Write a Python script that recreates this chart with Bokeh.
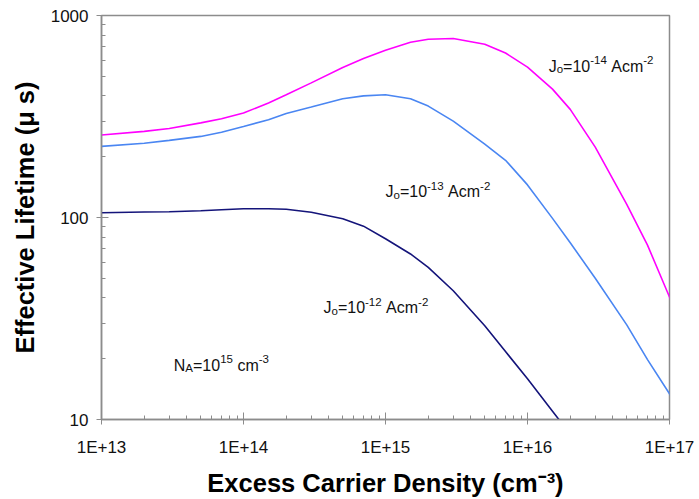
from bokeh.plotting import figure
from bokeh.models import FixedTicker, CustomJSTickFormatter, ColumnDataSource
from bokeh.embed import file_html
from bokeh.resources import INLINE
from bokeh.core.properties import value

# Excess carrier density (cm^-3) at which lifetimes were evaluated
density = [1e13, 2e13, 3e13, 5e13, 7e13, 1e14, 1.5e14, 2e14, 3e14, 5e14, 7e14,
           1e15, 1.5e15, 2e15, 3e15, 5e15, 7e15, 1e16, 1.5e16, 2e16, 3e16,
           5e16, 7e16, 1e17, 1.1e17]

# Effective lifetime (us) for Jo = 1e-14 A/cm^2
tau_jo14 = [256, 267, 276, 294, 308, 329, 369, 405, 464, 553, 612,
            673, 737, 763, 769, 721, 652, 555, 432, 343, 223,
            116, 73, 40.4, 34.4]

# Effective lifetime (us) for Jo = 1e-13 A/cm^2
tau_jo13 = [225, 233, 241, 252, 264, 282, 305, 327, 352, 387, 400,
            405, 387, 356, 300, 231, 192, 145, 99, 75, 50,
            29.4, 19.8, 13.4, 12.0]

# Jo = 1e-12 A/cm^2 runs off the bottom of the scale sooner
density_jo12 = [1e13, 2e13, 3e13, 5e13, 7e13, 1e14, 1.5e14, 2e14, 3e14, 5e14,
                7e14, 1e15, 1.5e15, 2e15, 3e15, 5e15, 7e15, 1e16, 1.5e16, 1.75e16]
tau_jo12 = [105.6, 106.4, 106.8, 108, 109.2, 110.5, 110.5, 109.8, 106.2, 98.6,
            90.6, 78.5, 66, 56.6, 43.4, 29.1, 21.7, 15.9, 11.0, 9.55]

x_major = [1e13, 1e14, 1e15, 1e16, 1e17]
y_major = [10, 100, 1000]

FONT = "Liberation Sans"
GREY = "#8c8c8c"

p = figure(width=699, height=499, x_axis_type="log", y_axis_type="log",
           x_range=(1e13, 1e17), y_range=(10, 1000),
           output_backend="svg", toolbar_location=None,
           min_border_left=101, min_border_right=30,
           min_border_top=15, min_border_bottom=76)
p.background_fill_color = "white"
p.border_fill_color = "white"
p.xgrid.visible = False
p.ygrid.visible = False
p.outline_line_color = GREY
p.outline_line_width = 1.5

# axes
p.xaxis.ticker = FixedTicker(
    ticks=x_major,
    minor_ticks=[k * 10 ** n for n in range(13, 17) for k in range(2, 10)])
p.yaxis.ticker = FixedTicker(
    ticks=y_major,
    minor_ticks=[k * 10 ** n for n in range(1, 3) for k in range(2, 10)])
p.xaxis.formatter = CustomJSTickFormatter(
    code="return '1E+' + Math.round(Math.log10(tick));")
p.yaxis.formatter = CustomJSTickFormatter(code="return tick.toFixed(0);")

for ax in (p.xaxis, p.yaxis):
    ax.axis_line_color = GREY
    ax.axis_line_width = 1.5
    ax.major_tick_line_color = GREY
    ax.minor_tick_line_color = GREY
    ax.major_tick_line_width = 1
    ax.minor_tick_line_width = 1
    ax.major_tick_in = 7
    ax.major_tick_out = 5
    ax.minor_tick_in = 4
    ax.minor_tick_out = 0
    ax.major_label_text_font = FONT
    ax.major_label_text_font_size = "17px"
    ax.major_label_text_color = "#111111"
    ax.axis_label_text_font = FONT
    ax.axis_label_text_font_style = "bold"
    ax.axis_label_text_font_size = "25.5px"
    ax.axis_label_text_color = "#000000"

p.xaxis.major_label_standoff = 13
p.xaxis.axis_label_standoff = 9
p.yaxis.major_label_standoff = 8
p.yaxis.axis_label_standoff = 9
p.xaxis.axis_label = "Excess Carrier Density (cm\u207b\u00b3)"
p.yaxis.axis_label = "Effective Lifetime (\u03bc s)"

# lifetime curves
p.line(density, tau_jo14, line_color="#ff00ff", line_width=1.6)
p.line(density, tau_jo13, line_color="#4a86f2", line_width=1.6)
p.line(density_jo12, tau_jo12, line_color="#14147a", line_width=1.6)

# in-plot annotations built from normal, subscript and superscript pieces
ADV = {'J': 500, 'o': 556, '=': 584, '0': 556, '1': 556, '2': 556, '3': 556,
       '4': 556, '5': 556, '-': 333, ' ': 278, 'A': 667, 'c': 500, 'm': 833,
       'N': 722}
BASE_PX = 16
SMALL_PX = 11.5

annotations = [
    (1.41e16, 562, [("J", "n"), ("o", "sub"), ("=10", "n"), ("-14", "sup"),
                    (" Acm", "n"), ("-2", "sup")]),
    (1.0e15, 134, [("J", "n"), ("o", "sub"), ("=10", "n"), ("-13", "sup"),
                   (" Acm", "n"), ("-2", "sup")]),
    (3.66e14, 35.7, [("J", "n"), ("o", "sub"), ("=10", "n"), ("-12", "sup"),
                     (" Acm", "n"), ("-2", "sup")]),
    (3.23e13, 18.6, [("N", "n"), ("A", "sub"), ("=10", "n"), ("15", "sup"),
                     (" cm", "n"), ("-3", "sup")]),
]

pieces = {"n": dict(x=[], y=[], text=[], xo=[], yo=[]),
          "s": dict(x=[], y=[], text=[], xo=[], yo=[])}
for ax_, ay_, parts in annotations:
    cursor = 0.0
    for txt, kind in parts:
        size = BASE_PX if kind == "n" else SMALL_PX
        # leading blanks are collapsed by the renderer, so advance past them
        stripped = txt.lstrip(" ")
        cursor += (len(txt) - len(stripped)) * ADV[' '] * size / 1000.0
        group = pieces["n" if kind == "n" else "s"]
        group["x"].append(ax_)
        group["y"].append(ay_)
        group["text"].append(stripped)
        group["xo"].append(cursor)
        group["yo"].append({"n": 0, "sub": 3, "sup": -6}[kind])
        cursor += sum(ADV[ch] for ch in stripped) * size / 1000.0

for key, size in (("n", BASE_PX), ("s", SMALL_PX)):
    src = ColumnDataSource(pieces[key])
    p.text(x="x", y="y", text="text", x_offset="xo", y_offset="yo", source=src,
           text_font=value(FONT), text_font_size=f"{size}px",
           text_color="#111111", text_align="left", text_baseline="alphabetic")

open("out.html", "w").write(file_html(p, INLINE))
